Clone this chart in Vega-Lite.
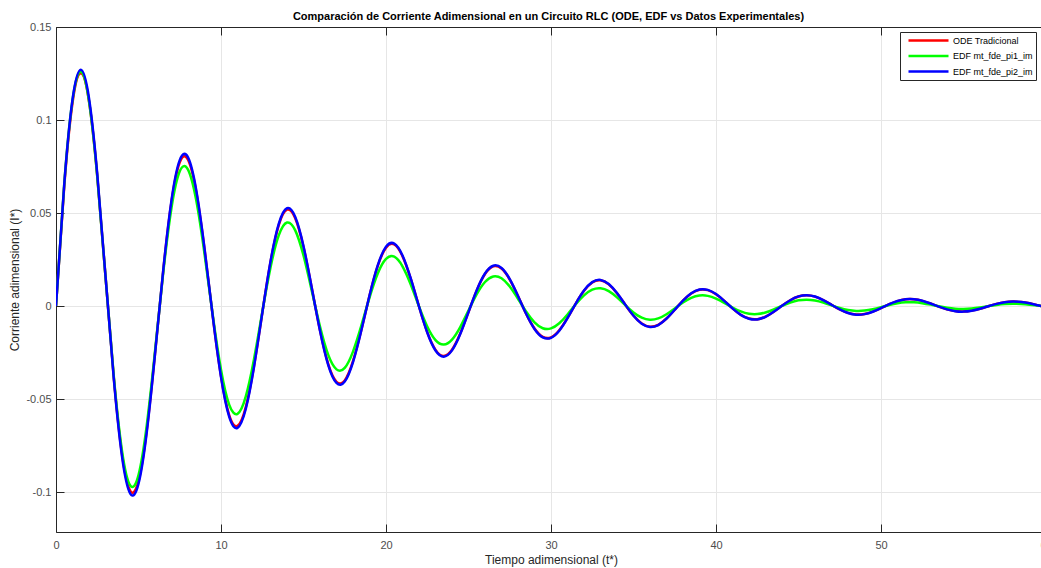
{
  "$schema": "https://vega.github.io/schema/vega-lite/v6.json",
  "width": 985,
  "height": 505,
  "autosize": {"type": "none"},
  "padding": {"left": 56, "top": 27, "right": 0, "bottom": 36},
  "background": "white",
  "config": {
    "font": "Liberation Sans",
    "view": {"stroke": null}
  },
  "title": {
    "text": "Comparación de Corriente Adimensional en un Circuito RLC (ODE, EDF vs Datos Experimentales)",
    "fontSize": 11,
    "fontWeight": "bold",
    "color": "#000000",
    "anchor": "middle",
    "offset": -1
  },
  "data": {
    "values": [
      {"t":0,"ode":0,"pi1":0,"pi2":0},
      {"t":0.5,"ode":0.06448,"pi1":0.06571,"pi2":0.06546},
      {"t":1,"ode":0.10928,"pi1":0.11071,"pi2":0.11094},
      {"t":1.5,"ode":0.12508,"pi1":0.12596,"pi2":0.12698},
      {"t":2,"ode":0.1101,"pi1":0.1102,"pi2":0.11178},
      {"t":2.5,"ode":0.06998,"pi1":0.06962,"pi2":0.07105},
      {"t":3,"ode":0.01593,"pi1":0.01576,"pi2":0.01617},
      {"t":3.5,"ode":-0.03824,"pi1":-0.0376,"pi2":-0.03882},
      {"t":4,"ode":-0.07967,"pi1":-0.07785,"pi2":-0.08088},
      {"t":4.5,"ode":-0.09936,"pi1":-0.09651,"pi2":-0.10087},
      {"t":5,"ode":-0.09412,"pi1":-0.09088,"pi2":-0.09555},
      {"t":5.5,"ode":-0.06686,"pi1":-0.06417,"pi2":-0.06788},
      {"t":6,"ode":-0.02557,"pi1":-0.02439,"pi2":-0.02596},
      {"t":6.5,"ode":0.019,"pi1":0.01803,"pi2":0.01929},
      {"t":7,"ode":0.05606,"pi1":0.05285,"pi2":0.05691},
      {"t":7.5,"ode":0.07728,"pi1":0.07242,"pi2":0.07846},
      {"t":8,"ode":0.07871,"pi1":0.07331,"pi2":0.07991},
      {"t":8.5,"ode":0.06135,"pi1":0.0568,"pi2":0.06228},
      {"t":9,"ode":0.03057,"pi1":0.02813,"pi2":0.03104},
      {"t":9.5,"ode":-0.00539,"pi1":-0.00493,"pi2":-0.00547},
      {"t":10,"ode":-0.03763,"pi1":-0.03421,"pi2":-0.0382},
      {"t":10.5,"ode":-0.05875,"pi1":-0.05312,"pi2":-0.05964},
      {"t":11,"ode":-0.06449,"pi1":-0.05795,"pi2":-0.06547},
      {"t":11.5,"ode":-0.05451,"pi1":-0.04869,"pi2":-0.05534},
      {"t":12,"ode":-0.03226,"pi1":-0.02864,"pi2":-0.03275},
      {"t":12.5,"ode":-0.00385,"pi1":-0.0034,"pi2":-0.00391},
      {"t":13,"ode":0.02355,"pi1":0.02067,"pi2":0.02391},
      {"t":13.5,"ode":0.04352,"pi1":0.03795,"pi2":0.04418},
      {"t":14,"ode":0.05178,"pi1":0.04488,"pi2":0.05257},
      {"t":14.5,"ode":0.04718,"pi1":0.04067,"pi2":0.0479},
      {"t":15,"ode":0.0317,"pi1":0.02714,"pi2":0.03218},
      {"t":15.5,"ode":0.00971,"pi1":0.00827,"pi2":0.00986},
      {"t":16,"ode":-0.01308,"pi1":-0.01107,"pi2":-0.01328},
      {"t":16.5,"ode":-0.03126,"pi1":-0.0263,"pi2":-0.03174},
      {"t":17,"ode":-0.04073,"pi1":-0.03406,"pi2":-0.04135},
      {"t":17.5,"ode":-0.04002,"pi1":-0.03327,"pi2":-0.04063},
      {"t":18,"ode":-0.02968,"pi1":-0.02451,"pi2":-0.03013},
      {"t":18.5,"ode":-0.01307,"pi1":-0.01073,"pi2":-0.01327},
      {"t":19,"ode":0.00553,"pi1":0.00451,"pi2":0.00561},
      {"t":19.5,"ode":0.02154,"pi1":0.01747,"pi2":0.02187},
      {"t":20,"ode":0.03135,"pi1":0.02529,"pi2":0.03183},
      {"t":20.5,"ode":0.03307,"pi1":0.02651,"pi2":0.03357},
      {"t":21,"ode":0.02679,"pi1":0.02135,"pi2":0.0272},
      {"t":21.5,"ode":0.01458,"pi1":0.01155,"pi2":0.0148},
      {"t":22,"ode":-0.00027,"pi1":-0.00021,"pi2":-0.00027},
      {"t":22.5,"ode":-0.01405,"pi1":-0.011,"pi2":-0.01426},
      {"t":23,"ode":-0.02356,"pi1":-0.01833,"pi2":-0.02392},
      {"t":23.5,"ode":-0.02683,"pi1":-0.02075,"pi2":-0.02724},
      {"t":24,"ode":-0.02351,"pi1":-0.01808,"pi2":-0.02387},
      {"t":24.5,"ode":-0.01483,"pi1":-0.01134,"pi2":-0.01506},
      {"t":25,"ode":-0.0032,"pi1":-0.00243,"pi2":-0.00325},
      {"t":25.5,"ode":0.00839,"pi1":0.00634,"pi2":0.00852},
      {"t":26,"ode":0.01721,"pi1":0.01292,"pi2":0.01747},
      {"t":26.5,"ode":0.02134,"pi1":0.01591,"pi2":0.02167},
      {"t":27,"ode":0.02013,"pi1":0.01493,"pi2":0.02044},
      {"t":27.5,"ode":0.01423,"pi1":0.01049,"pi2":0.01445},
      {"t":28,"ode":0.00532,"pi1":0.0039,"pi2":0.0054},
      {"t":28.5,"ode":-0.00424,"pi1":-0.00308,"pi2":-0.0043},
      {"t":29,"ode":-0.01214,"pi1":-0.00879,"pi2":-0.01232},
      {"t":29.5,"ode":-0.0166,"pi1":-0.01194,"pi2":-0.01685},
      {"t":30,"ode":-0.01685,"pi1":-0.01205,"pi2":-0.01711},
      {"t":30.5,"ode":-0.01307,"pi1":-0.00929,"pi2":-0.01327},
      {"t":31,"ode":-0.00642,"pi1":-0.00454,"pi2":-0.00652},
      {"t":31.5,"ode":0.00129,"pi1":0.00091,"pi2":0.00131},
      {"t":32,"ode":0.00818,"pi1":0.00571,"pi2":0.0083},
      {"t":32.5,"ode":0.01266,"pi1":0.00879,"pi2":0.01285},
      {"t":33,"ode":0.01383,"pi1":0.00954,"pi2":0.01404},
      {"t":33.5,"ode":0.01164,"pi1":0.00798,"pi2":0.01182},
      {"t":34,"ode":0.00683,"pi1":0.00465,"pi2":0.00693},
      {"t":34.5,"ode":0.00072,"pi1":0.00048,"pi2":0.00073},
      {"t":35,"ode":-0.00514,"pi1":-0.00347,"pi2":-0.00522},
      {"t":35.5,"ode":-0.0094,"pi1":-0.00629,"pi2":-0.00954},
      {"t":36,"ode":-0.01112,"pi1":-0.00741,"pi2":-0.01129},
      {"t":36.5,"ode":-0.01009,"pi1":-0.00668,"pi2":-0.01024},
      {"t":37,"ode":-0.00673,"pi1":-0.00442,"pi2":-0.00683},
      {"t":37.5,"ode":-0.002,"pi1":-0.00131,"pi2":-0.00203},
      {"t":38,"ode":0.00289,"pi1":0.00188,"pi2":0.00293},
      {"t":38.5,"ode":0.00675,"pi1":0.00437,"pi2":0.00685},
      {"t":39,"ode":0.00875,"pi1":0.00562,"pi2":0.00888},
      {"t":39.5,"ode":0.00854,"pi1":0.00545,"pi2":0.00867},
      {"t":40,"ode":0.00631,"pi1":0.004,"pi2":0.00641},
      {"t":40.5,"ode":0.00274,"pi1":0.00173,"pi2":0.00278},
      {"t":41,"ode":-0.00125,"pi1":-0.00079,"pi2":-0.00127},
      {"t":41.5,"ode":-0.00469,"pi1":-0.00292,"pi2":-0.00476},
      {"t":42,"ode":-0.00676,"pi1":-0.00418,"pi2":-0.00686},
      {"t":42.5,"ode":-0.00709,"pi1":-0.00435,"pi2":-0.0072},
      {"t":43,"ode":-0.00571,"pi1":-0.00349,"pi2":-0.0058},
      {"t":43.5,"ode":-0.00307,"pi1":-0.00187,"pi2":-0.00312},
      {"t":44,"ode":0.00011,"pi1":0.00007,"pi2":0.00012},
      {"t":44.5,"ode":0.00306,"pi1":0.00184,"pi2":0.00311},
      {"t":45,"ode":0.00508,"pi1":0.00304,"pi2":0.00516},
      {"t":45.5,"ode":0.00575,"pi1":0.00342,"pi2":0.00584},
      {"t":46,"ode":0.00502,"pi1":0.00296,"pi2":0.0051},
      {"t":46.5,"ode":0.00315,"pi1":0.00185,"pi2":0.0032},
      {"t":47,"ode":0.00064,"pi1":0.00037,"pi2":0.00065},
      {"t":47.5,"ode":-0.00184,"pi1":-0.00106,"pi2":-0.00187},
      {"t":48,"ode":-0.00371,"pi1":-0.00214,"pi2":-0.00377},
      {"t":48.5,"ode":-0.00458,"pi1":-0.00262,"pi2":-0.00465},
      {"t":49,"ode":-0.0043,"pi1":-0.00245,"pi2":-0.00437},
      {"t":49.5,"ode":-0.00302,"pi1":-0.00171,"pi2":-0.00307},
      {"t":50,"ode":-0.0011,"pi1":-0.00062,"pi2":-0.00112},
      {"t":50.5,"ode":0.00095,"pi1":0.00053,"pi2":0.00096},
      {"t":51,"ode":0.00262,"pi1":0.00146,"pi2":0.00266},
      {"t":51.5,"ode":0.00358,"pi1":0.00197,"pi2":0.00363},
      {"t":52,"ode":0.0036,"pi1":0.00199,"pi2":0.00365},
      {"t":52.5,"ode":0.00278,"pi1":0.00152,"pi2":0.00282},
      {"t":53,"ode":0.00135,"pi1":0.00074,"pi2":0.00137},
      {"t":53.5,"ode":-0.00031,"pi1":-0.00016,"pi2":-0.00031},
      {"t":54,"ode":-0.00177,"pi1":-0.00095,"pi2":-0.0018},
      {"t":54.5,"ode":-0.00272,"pi1":-0.00146,"pi2":-0.00276},
      {"t":55,"ode":-0.00297,"pi1":-0.00157,"pi2":-0.00301},
      {"t":55.5,"ode":-0.00247,"pi1":-0.00131,"pi2":-0.00251},
      {"t":56,"ode":-0.00144,"pi1":-0.00075,"pi2":-0.00146},
      {"t":56.5,"ode":-0.00013,"pi1":-0.00007,"pi2":-0.00013},
      {"t":57,"ode":0.00112,"pi1":0.00058,"pi2":0.00114},
      {"t":57.5,"ode":0.00203,"pi1":0.00105,"pi2":0.00206},
      {"t":58,"ode":0.00237,"pi1":0.00122,"pi2":0.00241},
      {"t":58.5,"ode":0.00215,"pi1":0.0011,"pi2":0.00218},
      {"t":59,"ode":0.00143,"pi1":0.00072,"pi2":0.00145},
      {"t":59.5,"ode":0.0004,"pi1":0.00021,"pi2":0.00041},
      {"t":60,"ode":-0.00064,"pi1":-0.00032,"pi2":-0.00065}
    ]
  },
  "resolve": {"axis": {"x": "independent"}},
  "layer": [
    {
      "mark": {"type": "point", "opacity": 0},
      "encoding": {
        "x": {
          "field": "t",
          "type": "quantitative",
          "scale": {"domain": [0, 60], "range": [0, 990], "nice": false, "zero": false},
          "axis": {
            "orient": "top",
            "values": [0, 10, 20, 30, 40, 50, 60],
            "labels": false,
            "title": null,
            "grid": false,
            "domainColor": "#262626",
            "ticks": true,
            "tickSize": -8,
            "tickColor": "#262626"
          }
        }
      }
    },
    {
      "transform": [{"fold": ["ode", "pi1", "pi2"], "as": ["serie", "I"]}],
      "mark": {"type": "line", "interpolate": "natural", "strokeWidth": 2.5, "clip": true},
      "encoding": {
        "x": {
          "field": "t",
          "type": "quantitative",
          "scale": {"domain": [0, 60], "range": [0, 990], "nice": false, "zero": false},
          "axis": {
            "orient": "bottom",
            "values": [0, 10, 20, 30, 40, 50, 60],
            "title": "Tiempo adimensional (t*)",
            "titleFontSize": 12,
            "titleFontWeight": "normal",
            "titleColor": "#262626",
            "titlePadding": 4,
            "labelFontSize": 11,
            "labelColor": "#4d4d4d",
            "labelPadding": 15,
            "labelFlush": false,
            "domainColor": "#262626",
            "ticks": true,
            "tickSize": -8,
            "tickColor": "#262626",
            "grid": true,
            "gridColor": "#e6e6e6"
          }
        },
        "y": {
          "field": "I",
          "type": "quantitative",
          "scale": {"domain": [-0.1215, 0.15], "nice": false, "zero": false},
          "axis": {
            "values": [-0.1, -0.05, 0, 0.05, 0.1, 0.15],
            "labelExpr": "'' + datum.value",
            "title": "Corriente adimensional (I*)",
            "titleFontSize": 12,
            "titleFontWeight": "normal",
            "titleColor": "#262626",
            "titlePadding": 4,
            "labelFontSize": 11,
            "labelColor": "#4d4d4d",
            "labelPadding": 13,
            "labelFlush": false,
            "domainColor": "#262626",
            "ticks": true,
            "tickSize": -8,
            "tickColor": "#262626",
            "grid": true,
            "gridColor": "#e6e6e6"
          }
        },
        "color": {
          "field": "serie",
          "type": "nominal",
          "scale": {"domain": ["ode", "pi1", "pi2"], "range": ["#ff0000", "#00ff00", "#0000ff"]},
          "legend": {
            "title": null,
            "orient": "top-right",
            "offset": 5,
            "labelExpr": "{'ode': 'ODE Tradicional', 'pi1': 'EDF mt_fde_pi1_im', 'pi2': 'EDF mt_fde_pi2_im'}[datum.label]",
            "labelFontSize": 9,
            "labelColor": "#000000",
            "labelOffset": 39,
            "symbolType": "M0,0H10",
            "symbolSize": 64,
            "symbolStrokeWidth": 2.5,
            "rowPadding": 4.5,
            "padding": 3,
            "fillColor": "#ffffff",
            "strokeColor": "#262626",
            "cornerRadius": 0
          }
        }
      }
    }
  ]
}
